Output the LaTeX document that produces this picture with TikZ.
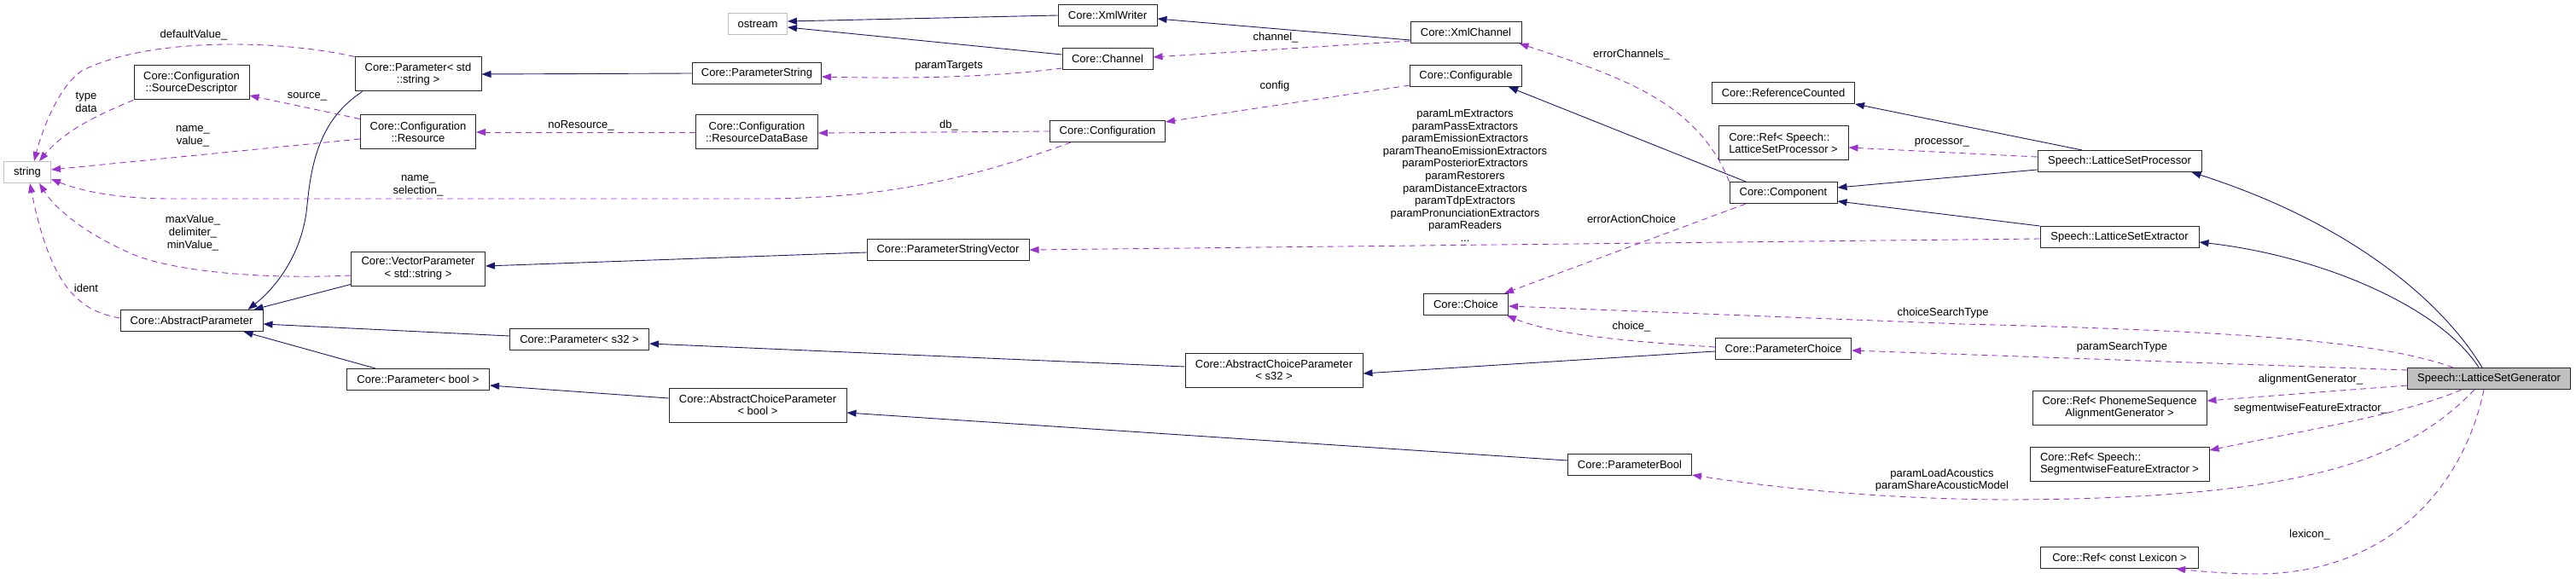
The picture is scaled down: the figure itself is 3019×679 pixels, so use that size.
\documentclass[tikz,border=0pt]{standalone}
\usepackage{fontspec}
\setmainfont{Liberation Sans}
\usetikzlibrary{arrows.meta}

\begin{document}
\begin{tikzpicture}[x=1pt, y=-1pt,
    cls/.style={draw=myframe, fill=white, line width=1pt, inner sep=0pt,
        minimum height=25pt, align=center, font=\fontsize{13}{14.6}\selectfont},
    two/.style={cls, minimum height=40pt},
    ext/.style={cls, draw=mygray},
    lbl/.style={inner sep=0pt, align=center, font=\fontsize{13}{14.6}\selectfont},
    inh/.style={draw=myinh, line width=0.9pt, -{Triangle[length=11pt,width=8pt]}},
    use/.style={draw=myuse, line width=0.9pt, dash pattern=on 7pt off 5pt,
        -{Triangle[length=11pt,width=8pt]}}]
    \definecolor{myinh}{RGB}{25,25,112}
    \definecolor{myuse}{RGB}{154,50,205}
    \definecolor{mygray}{RGB}{191,191,191}
    \definecolor{myframe}{RGB}{40,40,40}

    \useasboundingbox (0,0) rectangle (3019,679);

    % classes
    \node[ext, minimum width=55pt] (str) at (32,202) {string};
    \node[two, minimum width=135pt] (srcdesc) at (224.5,97) {Core::Configuration\\::SourceDescriptor};
    \node[two, minimum width=148pt] (pstr) at (490,87) {Core::Parameter< std\\::string >};
    \node[two, minimum width=135pt] (res) at (490,155) {Core::Configuration\\::Resource};
    \node[two, minimum width=157pt] (vecp) at (490,315) {Core::VectorParameter\\< std::string >};
    \node[cls, minimum width=167pt] (absp) at (224.5,376) {Core::AbstractParameter};
    \node[cls, minimum width=167pt] (pbool) at (490,445) {Core::Parameter< bool >};
    \node[ext, minimum width=69pt] (ostream) at (888,28) {ostream};
    \node[cls, minimum width=151pt] (pstring) at (887,86) {Core::ParameterString};
    \node[two, minimum width=143pt] (resdb) at (887,155) {Core::Configuration\\::ResourceDataBase};
    \node[cls, minimum width=190pt] (psvec) at (1111,293) {Core::ParameterStringVector};
    \node[cls, minimum width=163pt] (ps32) at (679,398) {Core::Parameter< s32 >};
    \node[two, minimum width=208pt] (acpbool) at (888,475) {Core::AbstractChoiceParameter\\< bool >};
    \node[cls, minimum width=116pt] (xmlw) at (1298,18) {Core::XmlWriter};
    \node[cls, minimum width=106pt] (chan) at (1298,69) {Core::Channel};
    \node[cls, minimum width=135pt] (conf) at (1298,154) {Core::Configuration};
    \node[cls, minimum width=130pt] (xmlch) at (1718,38) {Core::XmlChannel};
    \node[cls, minimum width=131pt] (confable) at (1718,89) {Core::Configurable};
    \node[two, minimum width=208pt] (acps32) at (1493,434) {Core::AbstractChoiceParameter\\< s32 >};
    \node[cls, minimum width=99pt] (choice) at (1718,357) {Core::Choice};
    \node[cls, minimum width=167pt] (refc) at (2090,109) {Core::ReferenceCounted};
    \node[two, minimum width=152pt, align=left] (refproc) at (2090,168) {Core::Ref< Speech::\\LatticeSetProcessor >};
    \node[cls, minimum width=126pt] (comp) at (2090,226) {Core::Component};
    \node[cls, minimum width=159pt] (pchoice) at (2090,409) {Core::ParameterChoice};
    \node[cls, minimum width=145pt] (pbooln) at (1910,545) {Core::ParameterBool};
    \node[cls, minimum width=192pt] (lsp) at (2484,189) {Speech::LatticeSetProcessor};
    \node[cls, minimum width=186pt] (lse) at (2484,278) {Speech::LatticeSetExtractor};
    \node[cls, minimum width=191pt, fill=mygray] (gen) at (2917,444) {Speech::LatticeSetGenerator};
    \node[two, minimum width=204pt] (refalign) at (2484,478) {Core::Ref< PhonemeSequence\\AlignmentGenerator >};
    \node[two, minimum width=210pt, align=left] (refseg) at (2484,544) {Core::Ref< Speech::\\SegmentwiseFeatureExtractor >};
    \node[cls, minimum width=185pt] (reflex) at (2484,654) {Core::Ref< const Lexicon >};

    % inheritance
    \draw[inh] ([xshift=9pt]pstr.south west) .. controls (375,140) and (365,190) .. (360,240)
        .. controls (355,300) and (320,340) .. ([xshift=-18pt]absp.north east);
    \draw[inh] ([yshift=2pt]vecp.south west) -- ([xshift=-11pt]absp.north east);
    \draw[inh] ([yshift=4pt]ps32.west) -- ([yshift=-4pt]absp.east);
    \draw[inh] ([xshift=-50pt]pbool.north) -- ([xshift=-23pt]absp.south east);
    \draw[inh] (pstring.west) -- (pstr.east);
    \draw[inh] ([yshift=-3pt]psvec.west) -- ([yshift=3pt]vecp.east);
    \draw[inh] ([yshift=4pt]acps32.west) -- ([yshift=-5pt]ps32.east);
    \draw[inh] ([yshift=8pt]acpbool.west) -- ([yshift=-7pt]pbool.east);
    \draw[inh] ([yshift=-3pt]pchoice.west) -- ([yshift=-4pt]acps32.east);
    \draw[inh] ([yshift=5pt]pbooln.west) -- ([yshift=-9pt]acpbool.east);
    \draw[inh] (xmlw.west) -- ([yshift=3pt]ostream.east);
    \draw[inh] ([yshift=5pt]chan.west) -- ([yshift=-4pt]ostream.east);
    \draw[inh] ([yshift=-9pt]xmlch.west) -- ([yshift=-4pt]xmlw.east);
    \draw[inh] ([xshift=-44pt]comp.north) -- ([xshift=-16pt]confable.south east);
    \draw[inh] ([xshift=-44pt]lsp.north) -- (refc.south east);
    \draw[inh] ([yshift=-10pt]lsp.west) -- ([yshift=6pt]comp.east);
    \draw[inh] (lse.north west) -- ([yshift=-10pt]comp.east);
    \draw[inh] ([xshift=-8pt]gen.north) .. controls (2860,350) and (2750,260) .. ([xshift=-12pt]lsp.south east);
    \draw[inh] ([xshift=-12pt]gen.north) .. controls (2860,360) and (2720,300) .. ([yshift=-6pt]lse.east);

    % members
    \draw[use] (pstr.north west) .. controls (320,45) and (170,45) .. (96,83)
        .. controls (70,100) and (50,150) .. ([xshift=8pt]str.north);
    \draw[use] (srcdesc.south west) .. controls (100,140) and (70,160) .. ([xshift=14pt]str.north);
    \draw[use] ([yshift=-8pt]res.west) -- ([yshift=3pt]str.east);
    \draw[use] ([xshift=-43pt]conf.south) .. controls (1150,205) and (1050,232) .. (900,233)
        -- (200,233) .. controls (130,233) and (90,222) .. ([yshift=-8pt]str.east);
    \draw[use] ([yshift=-8pt]vecp.west) .. controls (330,327) and (220,322) .. (160,300)
        .. controls (100,275) and (65,245) .. ([xshift=14pt]str.south);
    \draw[use] ([yshift=3pt]absp.west) .. controls (95,365) and (60,340) .. ([xshift=3pt]str.south);
    \draw[use] ([yshift=-5pt]res.north west) -- ([yshift=-15pt]srcdesc.east);
    \draw[use] (resdb.west) -- (res.east);
    \draw[use] (conf.west) -- ([yshift=-1pt]resdb.east);
    \draw[use] ([yshift=-11pt]chan.west) .. controls (1150,92) and (1050,92) .. ([yshift=-4pt]pstring.east);
    \draw[use] ([yshift=-10pt]xmlch.west) -- ([yshift=2pt]chan.east);
    \draw[use] ([yshift=2pt]confable.south west) -- ([yshift=-2pt]conf.north east);
    \draw[use] (comp.north west) .. controls (1990,120) and (1900,90) .. ([xshift=-3pt]xmlch.south east);
    \draw[use] ([xshift=-44pt]comp.south) -- ([xshift=-5pt]choice.north east);
    \draw[use] ([yshift=-2pt]lse.west) -- (psvec.east);
    \draw[use] ([yshift=5pt]lsp.west) -- ([yshift=-5pt]refproc.east);
    \draw[use] ([yshift=2pt]pchoice.west) .. controls (1900,400) and (1820,392) .. ([xshift=-2pt]choice.south east);
    \draw[use] ([xshift=-42pt]gen.north) .. controls (2790,400) and (2620,388) .. (2300,380)
        -- ([yshift=-2pt]choice.east);
    \draw[use] ([yshift=10pt]gen.west) -- ([yshift=-2pt]pchoice.east);
    \draw[use] ([yshift=-8pt]gen.west) -- ([yshift=8pt]refalign.east);
    \draw[use] ([xshift=-32pt]gen.south) .. controls (2820,485) and (2700,505) .. ([yshift=16pt]refseg.east);
    \draw[use] ([xshift=-17pt]gen.south) .. controls (2820,540) and (2700,585) .. (2350,586)
        .. controls (2200,585) and (2080,572) .. ([yshift=1pt]pbooln.south east);
    \draw[use] ([xshift=-6pt]gen.south) .. controls (2890,560) and (2810,670) .. (2650,673)
        .. controls (2610,673) and (2580,670) .. ([xshift=66pt]reflex.south);

    % labels
    \node[lbl] (lDefault) at (227,41) {defaultValue\_};
    \node[lbl] (lTypeData) at (101,120) {type\\data};
    \node[lbl] (lNameValue) at (226,160) {name\_\\value\_};
    \node[lbl] (lNameSel) at (490,218) {name\_\\selection\_};
    \node[lbl] (lMaxVal) at (226,273) {maxValue\_\\delimiter\_\\minValue\_};
    \node[lbl] (lIdent) at (101,338) {ident};
    \node[lbl] (lSource) at (360,113) {source\_};
    \node[lbl] (lNoRes) at (681,147) {noResource\_};
    \node[lbl] (lDb) at (1112,147) {db\_};
    \node[lbl] (lParamT) at (1112,77) {paramTargets};
    \node[lbl] (lChannel) at (1495,44) {channel\_};
    \node[lbl] (lConfig) at (1494,101) {config};
    \node[lbl] (lErrCh) at (1912,64) {errorChannels\_};
    \node[lbl] (lErrAct) at (1912,257) {errorActionChoice};
    \node[lbl] (lExtract) at (1717,206) {paramLmExtractors\\paramPassExtractors\\paramEmissionExtractors\\paramTheanoEmissionExtractors\\paramPosteriorExtractors\\paramRestorers\\paramDistanceExtractors\\paramTdpExtractors\\paramPronunciationExtractors\\paramReaders\\...};
    \node[lbl] (lProc) at (2276,167) {processor\_};
    \node[lbl] (lChoice) at (1912,383) {choice\_};
    \node[lbl] (lChoiceST) at (2277,367) {choiceSearchType};
    \node[lbl] (lParamST) at (2487,407) {paramSearchType};
    \node[lbl] (lAlign) at (2708,445) {alignmentGenerator\_};
    \node[lbl] (lSegm) at (2708,479) {segmentwiseFeatureExtractor\_};
    \node[lbl] (lLoad) at (2276,563) {paramLoadAcoustics\\paramShareAcousticModel};
    \node[lbl] (lLex) at (2707,627) {lexicon\_};
\end{tikzpicture}
\end{document}
